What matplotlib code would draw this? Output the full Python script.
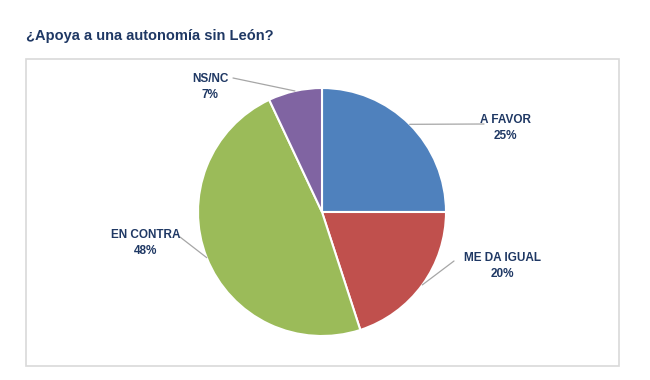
import numpy as np
import matplotlib
matplotlib.use('Agg')
import matplotlib.pyplot as plt
from matplotlib.patches import Rectangle

# data
labels = ['A FAVOR', 'ME DA IGUAL', 'EN CONTRA', 'NS/NC']
values = [25, 20, 48, 7]
colors = ['#4F81BD', '#C0504D', '#9BBB59', '#8064A2']
# label anchor (figure pixels from top-left) and leader end point
label_pos = [(505, 128), (502, 266), (146, 243), (210, 87)]
line_end = [(484, 124), (454, 261), (180, 237), (233, 78)]

W, H = 650, 380
fig = plt.figure(figsize=(W / 100, H / 100), dpi=100)
fig.patch.set_facecolor('white')

# background axes in pixel coords for the frame
bg = fig.add_axes([0, 0, 1, 1])
bg.set_xlim(0, W)
bg.set_ylim(H, 0)
bg.axis('off')
bg.add_patch(Rectangle((26, 59), 593, 307, fill=False, edgecolor='#D9D9D9', lw=1.2))
bg.text(26, 36, '¿Apoya a una autonomía sin León?', fontsize=10.5, fontweight='bold',
        color='#1F3864', family='Liberation Sans', va='center', ha='left')

# pie axes: center (322,212), radius 124 px
cx, cy, r = 322, 212, 124
side = 2 * r * 1.25
ax = fig.add_axes([(cx - side / 2) / W, (H - cy - side / 2) / H, side / W, side / H])
wedges, _ = ax.pie(values, colors=colors, startangle=90, counterclock=False,
                   wedgeprops=dict(edgecolor='white', linewidth=1.5))
ax.set_xlim(-1.25, 1.25)
ax.set_ylim(-1.25, 1.25)
ax.set_aspect('equal')

for w, lab, v, (tx, ty), (lx, ly) in zip(wedges, labels, values, label_pos, line_end):
    ang = np.deg2rad((w.theta1 + w.theta2) / 2)
    x0, y0 = np.cos(ang), np.sin(ang)
    ax.annotate('', xy=(x0, y0), xycoords='data',
                xytext=(lx, H - ly), textcoords='figure pixels',
                arrowprops=dict(arrowstyle='-', color='#A6A6A6', lw=0.9,
                                shrinkA=0, shrinkB=0))
    fig.text(tx / W, (H - ty) / H, '%s\n%d%%' % (lab, v), fontsize=8.5, fontweight='bold',
             color='#1F3864', family='Liberation Sans', ha='center', va='center',
             linespacing=1.45)

fig.savefig('out.png', dpi=100, facecolor='white')
